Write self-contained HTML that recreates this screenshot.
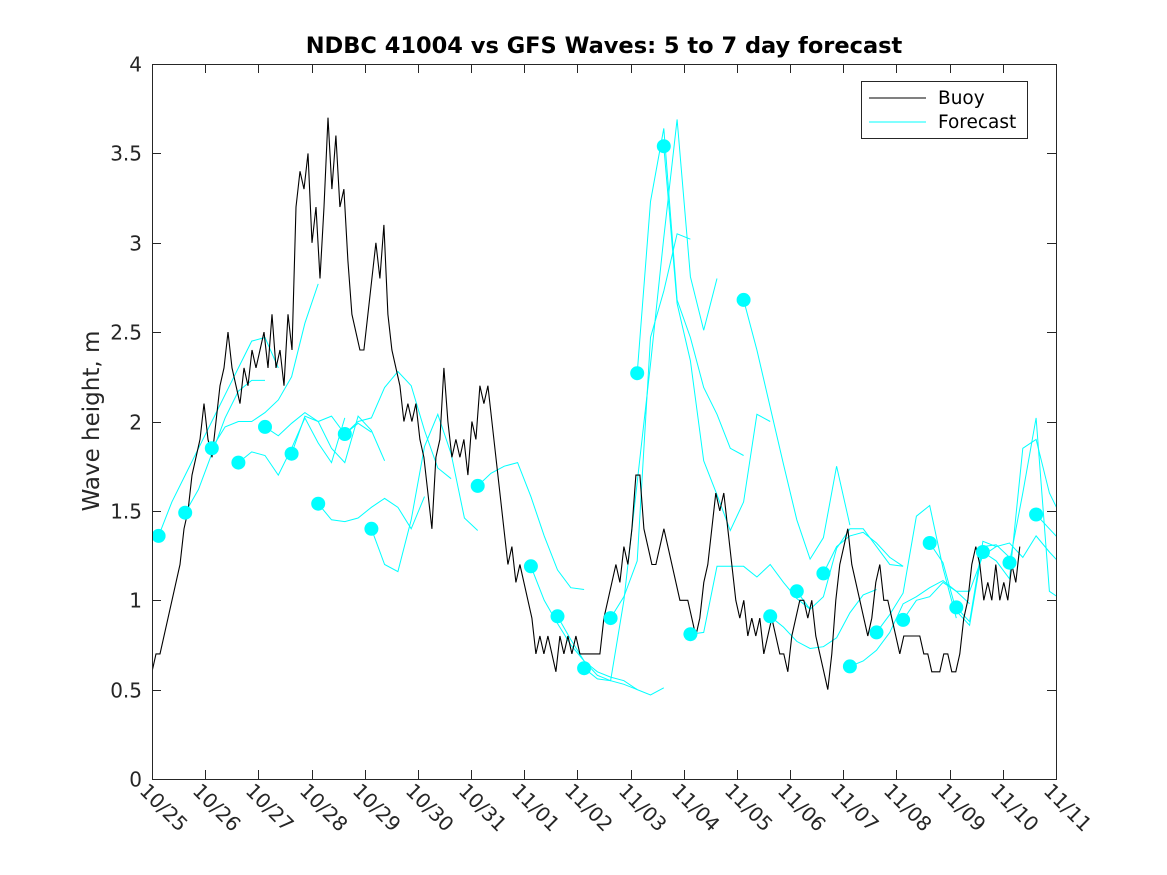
<!DOCTYPE html>
<html><head><meta charset="utf-8"><style>
body{margin:0;background:#fff}
svg{display:block;font-family:"DejaVu Sans","Liberation Sans",sans-serif}
</style></head><body>
<svg id="chart" width="1167" height="875" viewBox="0 0 1167 875">
<rect x="0" y="0" width="1167" height="875" fill="#fff"/>
<text x="604" y="53" text-anchor="middle" font-size="22.5" font-weight="bold" fill="#000">NDBC 41004 vs GFS Waves: 5 to 7 day forecast</text>
<text transform="translate(99,421) rotate(-90)" text-anchor="middle" font-size="23" fill="#262626">Wave height, m</text>
<defs><clipPath id="pc"><rect x="152" y="64" width="904" height="715"/></clipPath></defs>
<g id="axes"></g>
<g id="series" clip-path="url(#pc)"></g>
<rect x="152.5" y="64.5" width="904" height="715" fill="none" stroke="#262626" stroke-width="1"/>
<g>
<rect x="861.5" y="81.5" width="166" height="57" fill="#fff" stroke="#262626"/>
<line x1="869" y1="98" x2="926" y2="98" stroke="#000"/>
<text x="938" y="104" font-size="18.5" fill="#000">Buoy</text>
<line x1="869" y1="122" x2="926" y2="122" stroke="#00ffff"/>
<text x="938" y="128" font-size="18.5" fill="#000">Forecast</text>
</g>
</svg>
<script>
const xTickLabels=["10/25","10/26","10/27","10/28","10/29","10/30","10/31","11/01","11/02","11/03","11/04","11/05","11/06","11/07","11/08","11/09","11/10","11/11"];
const yTicks=[0,0.5,1,1.5,2,2.5,3,3.5,4];
const yTickLabels=["0","0.5","1","1.5","2","2.5","3","3.5","4"];
const buoyStepDays=0.0752;
const buoyHs=[0.6,0.7,0.7,0.8,0.9,1.0,1.1,1.2,1.4,1.5,1.7,1.8,1.9,2.1,1.9,1.8,2.0,2.2,2.3,2.5,2.3,2.2,2.1,2.3,2.2,2.4,2.3,2.4,2.5,2.3,2.6,2.3,2.4,2.2,2.6,2.4,3.2,3.4,3.3,3.5,3.0,3.2,2.8,3.2,3.7,3.3,3.6,3.2,3.3,2.9,2.6,2.5,2.4,2.4,2.6,2.8,3.0,2.8,3.1,2.6,2.4,2.3,2.2,2.0,2.1,2.0,2.1,1.9,1.8,1.6,1.4,1.8,1.9,2.3,2.0,1.8,1.9,1.8,1.9,1.7,2.0,1.9,2.2,2.1,2.2,2.0,1.8,1.6,1.4,1.2,1.3,1.1,1.2,1.1,1.0,0.9,0.7,0.8,0.7,0.8,0.7,0.6,0.8,0.7,0.8,0.7,0.8,0.7,0.7,0.7,0.7,0.7,0.7,0.9,1.0,1.1,1.2,1.1,1.3,1.2,1.4,1.7,1.7,1.4,1.3,1.2,1.2,1.3,1.4,1.3,1.2,1.1,1.0,1.0,1.0,0.9,0.8,0.9,1.1,1.2,1.4,1.6,1.5,1.6,1.4,1.2,1.0,0.9,1.0,0.8,0.9,0.8,0.9,0.7,0.8,0.9,0.8,0.7,0.7,0.6,0.8,0.9,1.0,1.0,0.9,1.0,0.8,0.7,0.6,0.5,0.7,1.0,1.2,1.3,1.4,1.2,1.1,1.0,0.9,0.8,0.9,1.1,1.2,1.0,1.0,0.9,0.8,0.7,0.8,0.8,0.8,0.8,0.8,0.7,0.7,0.6,0.6,0.6,0.7,0.7,0.6,0.6,0.7,0.9,1.0,1.2,1.3,1.2,1.0,1.1,1.0,1.2,1.0,1.1,1.0,1.2,1.1,1.3];
const fcStepDays=0.25;
const fcStartDays=[0.125,0.625,1.125,1.625,2.125,2.625,3.125,3.625,4.125,6.125,7.125,7.625,8.125,8.625,9.125,9.625,10.125,11.125,11.625,12.125,12.625,13.125,13.625,14.125,14.625,15.125,15.625,16.125,16.625];
const fcValues=[
[1.36,1.55,1.70,1.85,2.0,2.15,2.30,2.45,2.47,2.30],
[1.49,1.62,1.82,2.02,2.17,2.23,2.23],
[1.85,1.97,2.0,2.0,2.05,2.12,2.25,2.55,2.77],
[1.77,1.83,1.81,1.70,1.85,2.02,1.88,1.77,2.02],
[1.97,1.92,1.99,2.05,2.00,2.03,1.93,1.99,1.94],
[1.82,2.03,2.0,1.85,1.77,2.03,1.95,1.78],
[1.54,1.45,1.44,1.46,1.52,1.57,1.52,1.40,1.58],
[1.93,2.0,2.02,2.19,2.28,2.20,1.95,1.74,1.68],
[1.40,1.20,1.16,1.45,1.86,2.04,1.82,1.46,1.39],
[1.64,1.71,1.75,1.77,1.58,1.36,1.17,1.07,1.06],
[1.19,1.0,0.87,0.75,0.66,0.60,0.57,0.55,0.50],
[0.91,0.78,0.66,0.58,0.55,0.53,0.50,0.47,0.51],
[0.62,0.56,0.55,1.0,1.66,2.32,3.03,3.69,2.81,2.51,2.80],
[0.90,1.02,1.22,2.47,2.73,3.05,3.02],
[2.27,3.23,3.64,2.68,2.47,2.19,2.04,1.85,1.81],
[3.54,2.66,2.34,1.78,1.59,1.39,1.55,2.04,2.0],
[0.81,0.82,1.19,1.19,1.19,1.13,1.20,1.10,1.01,0.95],
[2.68,2.40,2.08,1.76,1.45,1.23,1.35,1.75,1.42],
[0.91,0.85,0.77,0.73,0.74,0.79,0.93,1.03,1.06],
[1.05,0.95,1.02,1.29,1.40,1.40,1.30,1.20,1.19],
[1.15,1.30,1.36,1.38,1.32,1.24,1.19],
[0.63,0.66,0.72,0.82,0.98,1.02,1.07,1.11,1.05,0.98],
[0.82,0.92,1.04,1.47,1.53,1.18,0.90],
[0.89,1.00,1.02,1.10,1.05,1.05,1.25,1.30],
[1.32,1.21,0.94,0.86,1.30,1.31,1.24],
[0.96,0.88,1.33,1.30,1.32,1.24,1.36,1.27,1.19],
[1.27,1.22,1.12,1.85,1.90,1.60,1.45],
[1.21,1.60,2.02,1.05,1.0],
[1.48,1.40,1.32]];

const X0=152,X1=1056,Y0=779,Y1=64,DAYS=17,YMAX=4;
function xs(d){return X0+(X1-X0)*d/DAYS;}
function ys(v){return Y0-(Y0-Y1)*v/YMAX;}
const NS="http://www.w3.org/2000/svg";
function mk(tag,attrs,parent){const e=document.createElementNS(NS,tag);for(const k in attrs)e.setAttribute(k,attrs[k]);parent.appendChild(e);return e;}
const axes=document.getElementById('axes'),series=document.getElementById('series');
yTicks.forEach((v,i)=>{
  const y=Math.round(ys(v))+0.5;
  const t1=mk('line',{x1:X0,y1:y,x2:X0+9,y2:y,stroke:'#262626'},axes);
  
  
  const t2=mk('line',{x1:X1-9,y1:y,x2:X1,y2:y,stroke:'#262626'},axes);
  
  
  const tx=mk('text',{x:X0-10,y:y+7,'text-anchor':'end','font-size':20,fill:'#262626'},axes);
  tx.textContent=yTickLabels[i];
  
  
});
xTickLabels.forEach((lab,i)=>{
  const x=Math.round(xs(i))+0.5;
  const t1=mk('line',{x1:x,y1:Y0,x2:x,y2:Y0-9,stroke:'#262626'},axes);
  
  
  const t2=mk('line',{x1:x,y1:Y1,x2:x,y2:Y1+9,stroke:'#262626'},axes);
  
  
  const tx=mk('text',{transform:`translate(${x-14},${Y0+13}) rotate(45)`,'font-size':20,fill:'#262626'},axes);
  tx.textContent=lab;
  
  
});
fcStartDays.forEach((s,i)=>{
  const pts=fcValues[i].map((v,j)=>xs(s+j*fcStepDays).toFixed(1)+','+ys(v).toFixed(1)).join(' ');
  const pl=mk('polyline',{points:pts,fill:'none',stroke:'#00ffff','stroke-width':1},series);
  
  
});
const bpts=buoyHs.map((v,j)=>xs(j*buoyStepDays).toFixed(1)+','+ys(v).toFixed(1)).join(' ');
const bl=mk('polyline',{points:bpts,fill:'none',stroke:'#000','stroke-width':1.1},series);


fcStartDays.forEach((s,i)=>{
  const c=mk('ellipse',{cx:xs(s).toFixed(1),cy:ys(fcValues[i][0]).toFixed(1),rx:7,ry:7,fill:'#00ffff'},series);
  
  
});
</script>
</body></html>
